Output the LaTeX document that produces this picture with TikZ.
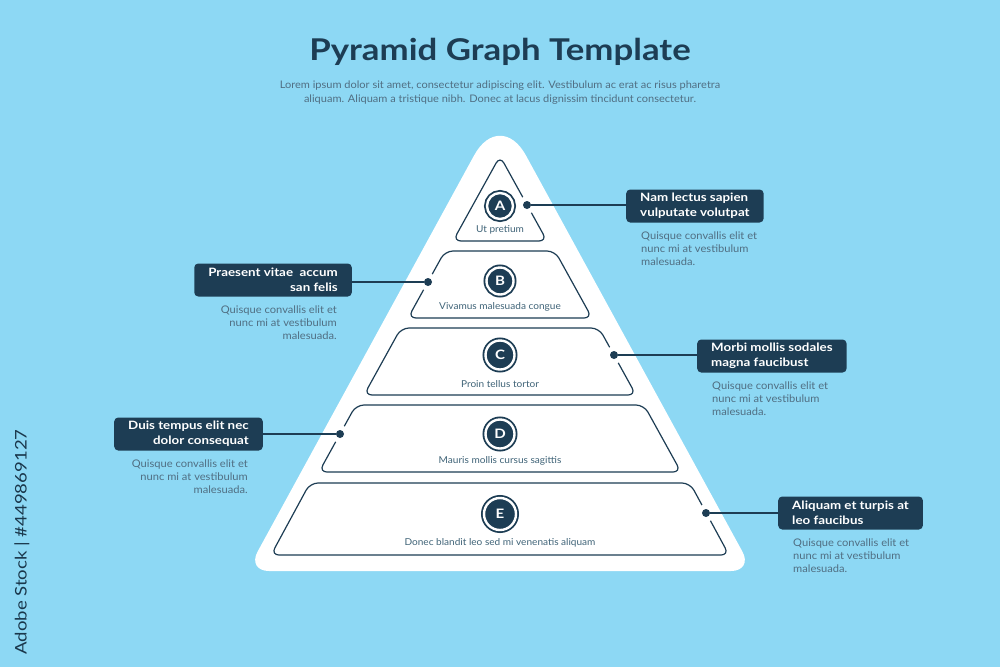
\documentclass[tikz,border=0pt]{standalone}
\usepackage{fontspec}
\setmainfont{Lato}[FakeStretch=1.06]
\newfontfamily\headfont{Lato}[FakeStretch=1.16]
\usetikzlibrary{positioning}
\definecolor{skyblue}{RGB}{141,216,244}
\definecolor{navy}{RGB}{29,61,84}
\definecolor{slate}{RGB}{80,110,130}
\definecolor{lvlgray}{RGB}{64,100,120}

\begin{document}
\begin{tikzpicture}[x=1pt, y=-1pt,
        lvl/.style={draw=navy, line width=1.2pt, rounded corners=8pt},
        badge/.style={circle, fill=navy, draw=navy, double=white, double distance=2.4pt, line width=1.8pt, inner sep=0pt, text=white, font=\headfont\bfseries\fontsize{13}{13}\selectfont},
        lvltext/.style={text=lvlgray, font=\fontsize{9.5}{11}\selectfont, inner sep=0pt},
        dot/.style={circle, fill=navy, inner sep=0pt, minimum size=8pt, preaction={draw=white, line width=10pt}},
        callout/.style={rectangle, fill=navy, rounded corners=4pt, text=white, font=\headfont\bfseries\fontsize{11.5}{15}\selectfont, inner xsep=14pt, inner ysep=2pt, minimum height=33pt},
        desc/.style={text=slate, font=\fontsize{10.5}{13}\selectfont, inner sep=0pt},
        conn/.style={draw=navy, line width=1.3pt}
    ]
        % background and frame
        \fill[skyblue] (0,0) rectangle (1000,667);

        % heading
        \node[text=navy, font=\headfont\bfseries\fontsize{30}{30}\selectfont] (title) at (500,52) {Pyramid Graph Template};
        \node[text=slate, font=\fontsize{10.4}{14}\selectfont, align=center, below=8pt of title] (subtitle) {Lorem ipsum dolor sit amet, consectetur adipiscing elit. Vestibulum ac erat ac risus pharetra\\aliquam. Aliquam a tristique nibh. Donec at lacus dignissim tincidunt consectetur.};

        % pyramid body
        \fill[white] (500,571) [rounded corners=22pt] -- (247,571) [rounded corners=54pt] -- (500,108) [rounded corners=22pt] -- (753,571) [sharp corners] -- cycle;

        % levels
        \draw[lvl] (453,241) -- (500,156) -- (547,241) -- cycle;
        \draw[lvl] (408,318) -- (445,251) -- (555,251) -- (592,318) -- cycle;
        \draw[lvl] (364,395) -- (401,328) -- (599,328) -- (636,395) -- cycle;
        \draw[lvl] (319,472) -- (356,405) -- (644,405) -- (681,472) -- cycle;
        \draw[lvl] (271,555) -- (310,483) -- (690,483) -- (729,555) -- cycle;

        % badges and level texts
        \node[badge, minimum size=26pt] (bA) at (500,206) {A};
        \node[badge, minimum size=27pt] (bB) at (500,281) {B};
        \node[badge, minimum size=29pt] (bC) at (500,355) {C};
        \node[badge, minimum size=29pt] (bD) at (500,434) {D};
        \node[badge, minimum size=32pt] (bE) at (500,514) {E};
        \node[lvltext] (tA) at (500,230) {Ut pretium};
        \node[lvltext] (tB) at (500,307) {Vivamus malesuada congue};
        \node[lvltext] (tC) at (500,384) {Proin tellus tortor};
        \node[lvltext] (tD) at (500,461) {Mauris mollis cursus sagittis};
        \node[lvltext] (tE) at (500,543) {Donec blandit leo sed mi venenatis aliquam};

        % callouts
        \node[callout, anchor=west, align=left] (cA) at (626,206) {Nam lectus sapien\\vulputate volutpat};
        \node[callout, anchor=east, align=right] (cB) at (352,280) {Praesent vitae\ \ accum\\san felis};
        \node[callout, anchor=west, align=left] (cC) at (697,356) {Morbi mollis sodales\\magna faucibust};
        \node[callout, anchor=east, align=right] (cD) at (263,434) {Duis tempus elit nec\\dolor consequat};
        \node[callout, anchor=west, align=left] (cE) at (778,513) {Aliquam et turpis at\\leo faucibus};

        \node[desc, align=left, below=9pt of cA.south west, anchor=north west, xshift=15pt] (dsA) {Quisque convallis elit et\\nunc mi at vestibulum\\malesuada.};
        \node[desc, align=right, below=9pt of cB.south east, anchor=north east, xshift=-15pt] (dsB) {Quisque convallis elit et\\nunc mi at vestibulum\\malesuada.};
        \node[desc, align=left, below=9pt of cC.south west, anchor=north west, xshift=15pt] (dsC) {Quisque convallis elit et\\nunc mi at vestibulum\\malesuada.};
        \node[desc, align=right, below=9pt of cD.south east, anchor=north east, xshift=-15pt] (dsD) {Quisque convallis elit et\\nunc mi at vestibulum\\malesuada.};
        \node[desc, align=left, below=9pt of cE.south west, anchor=north west, xshift=15pt] (dsE) {Quisque convallis elit et\\nunc mi at vestibulum\\malesuada.};

        % dots and leader lines
        \node[dot] (pA) at (527,205) {};
        \node[dot] (pB) at (428,282) {};
        \node[dot] (pC) at (614,355) {};
        \node[dot] (pD) at (340,434) {};
        \node[dot] (pE) at (706,513) {};
        \draw[conn] (pA) -- (pA -| cA.west);
        \draw[conn] (pB) -- (pB -| cB.east);
        \draw[conn] (pC) -- (pC -| cC.west);
        \draw[conn] (pD) -- (pD -| cD.east);
        \draw[conn] (pE) -- (pE -| cE.west);

        % side mark
        \node[rotate=90, text=navy!90!black, font=\headfont\fontsize{16}{16}\selectfont] (stock) at (22,542) {Adobe Stock | \#449869127};
    \end{tikzpicture}
\end{document}
